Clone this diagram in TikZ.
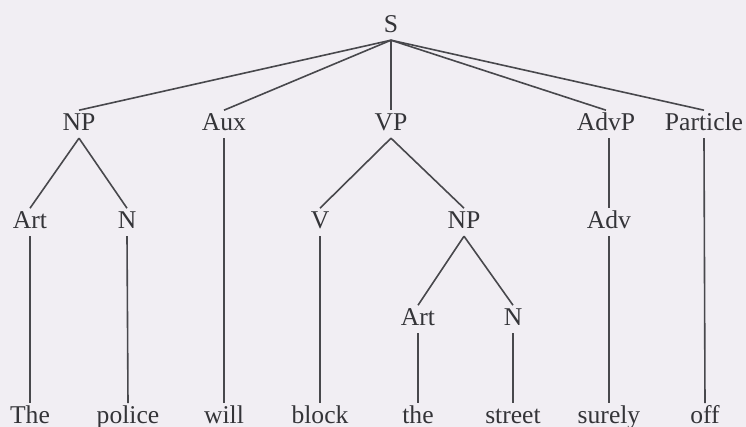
\documentclass[tikz,border=0pt]{standalone}
\usepackage{fontspec}
\setmainfont{Liberation Serif}
\definecolor{paper}{RGB}{241,238,243}
\definecolor{ink}{RGB}{52,52,56}
\begin{document}
\begin{tikzpicture}[x=0.5pt, y=-0.5pt,
        cat/.style={font=\fontsize{12.8}{14}\selectfont, text=ink, anchor=base,
            inner xsep=0pt, inner ysep=3.4pt, text height=0.68em, text depth=0pt},
        branch/.style={draw=ink!90, line width=0.8pt}]
        \fill [paper] (0, 0) rectangle (746, 427);
        \useasboundingbox (0, 0) rectangle (746, 427);

        % S
        \node [cat] (s) at (391, 33) {S};

        % first level
        \node [cat] (np) at (79, 131) {NP};
        \node [cat] (aux) at (224, 131) {Aux};
        \node [cat] (vp) at (391, 131) {VP};
        \node [cat] (advp) at (606, 131) {AdvP};
        \node [cat] (part) at (704, 131) {Particle};

        % second level
        \node [cat] (art) at (30, 229) {Art};
        \node [cat] (n) at (127, 229) {N};
        \node [cat] (v) at (320, 229) {V};
        \node [cat] (npb) at (464, 229) {NP};
        \node [cat] (adv) at (609, 229) {Adv};

        % third level (object NP)
        \node [cat] (artb) at (418, 326) {Art};
        \node [cat] (nb) at (513, 326) {N};

        % words
        \node [cat] (w1) at (30, 424) {The};
        \node [cat] (w2) at (128, 424) {police};
        \node [cat] (w3) at (224, 424) {will};
        \node [cat] (w4) at (320, 424) {block};
        \node [cat] (w5) at (418, 424) {the};
        \node [cat] (w6) at (513, 424) {street};
        \node [cat] (w7) at (609, 424) {surely};
        \node [cat] (w8) at (705, 424) {off};

        % branches from S
        \draw [branch] (s.south) -- (np.north);
        \draw [branch] (s.south) -- (aux.north);
        \draw [branch] (s.south) -- (vp.north);
        \draw [branch] (s.south) -- (advp.north);
        \draw [branch] (s.south) -- (part.north);

        % branches below the phrases
        \draw [branch] (np.south) -- (art.north);
        \draw [branch] (np.south) -- (n.north);
        \draw [branch] (vp.south) -- (v.north);
        \draw [branch] (vp.south) -- (npb.north);
        \draw [branch] (advp.south -| adv) -- (adv.north);
        \draw [branch] (npb.south) -- (artb.north);
        \draw [branch] (npb.south) -- (nb.north);

        % branches down to the words
        \draw [branch] (art.south) -- (w1.north);
        \draw [branch] (n.south) -- (w2.north);
        \draw [branch] (aux.south) -- (w3.north);
        \draw [branch] (v.south) -- (w4.north);
        \draw [branch] (artb.south) -- (w5.north);
        \draw [branch] (nb.south) -- (w6.north);
        \draw [branch] (adv.south) -- (w7.north);
        \draw [branch] (part.south) -- (w8.north);
\end{tikzpicture}
\end{document}
